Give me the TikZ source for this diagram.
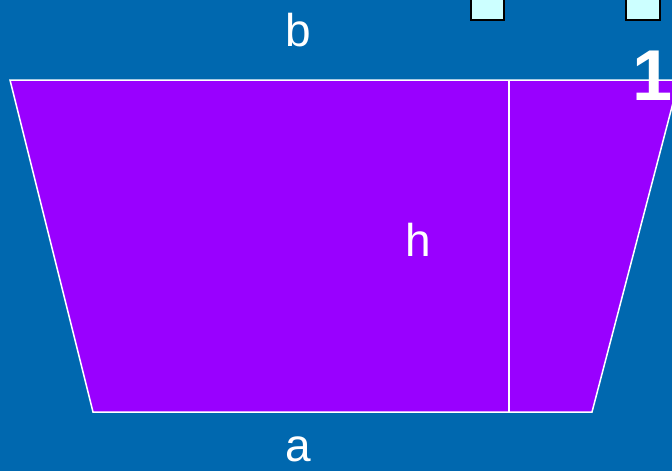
\documentclass[tikz,border=0pt]{standalone}
\usepackage{fontspec}
\setmainfont{Liberation Sans}
\definecolor{bg}{HTML}{0068AF}
\definecolor{trap}{HTML}{9900FF}
\definecolor{sq}{HTML}{CCFFFF}
\begin{document}
\begin{tikzpicture}[x=1pt,y=-1pt,
  lbl/.style={text=white,font=\fontsize{46}{46}\selectfont,inner sep=0pt},
  sqbox/.style={fill=sq,draw=black,line width=1.2pt},
  edge/.style={draw=white,line width=1.5pt}]
\fill[bg] (0,0) rectangle (672,471);
\useasboundingbox (0,0) rectangle (672,471);
\coordinate (tl) at (10,80);
\coordinate (tr) at (679,80);
\coordinate (br) at (592,412);
\coordinate (bl) at (93,412);
\coordinate (ht) at (509,80);
\coordinate (hb) at (509,412);
\fill[trap] (tl) -- (tr) -- (br) -- (bl) -- cycle;
\draw[edge,line join=miter] (tr) -- (tl) -- (bl) -- (br) -- (tr);
\draw[edge] (ht) -- (hb);
\node[sqbox,minimum width=33pt,minimum height=24pt,inner sep=0pt] (s1) at (487.5,8) {};
\node[sqbox,minimum width=34pt,minimum height=24pt,inner sep=0pt] (s2) at (643,8) {};
\node[lbl] (b) at (298,30) {b};
\node[lbl] (h) at (418,240) {h};
\node[lbl] (a) at (298,449) {a};
\node[text=white,font=\bfseries\fontsize{72}{72}\selectfont,inner sep=0pt,anchor=base] (one) at (653,100) {1};
\end{tikzpicture}
\end{document}
